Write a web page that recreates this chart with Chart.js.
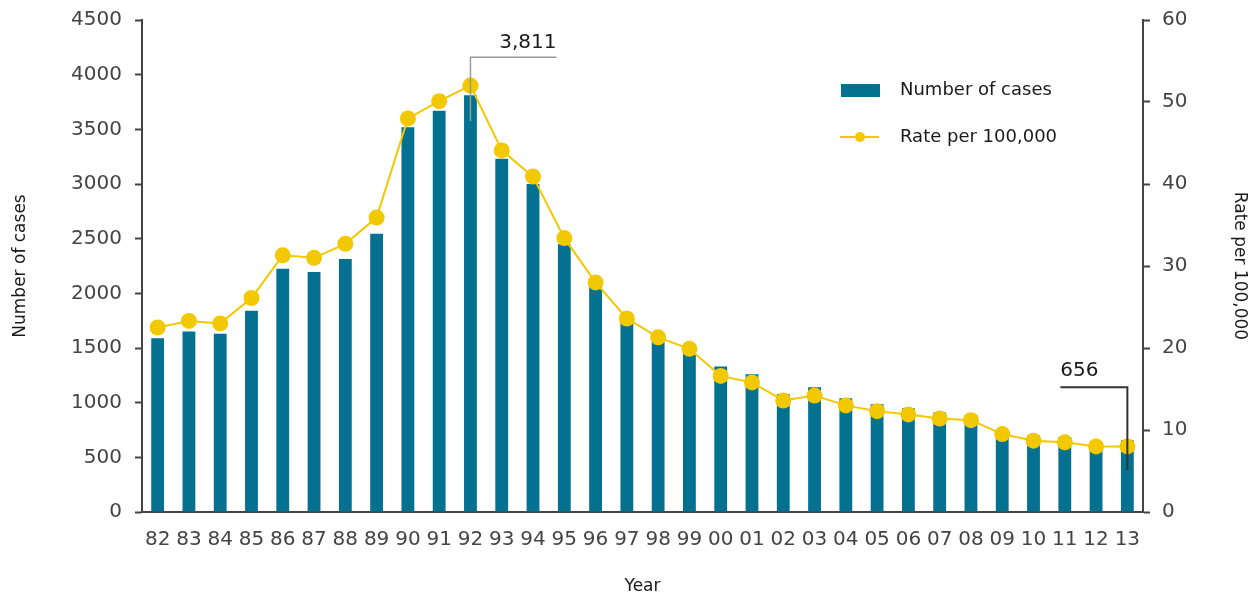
<!DOCTYPE html>
<html>
<head>
<meta charset="utf-8">
<script src="https://cdn.jsdelivr.net/npm/chart.js@4"></script>
<style>
  html, body { margin: 0; padding: 0; background: #fff; }
  #wrap { width: 1260px; height: 598px; }
</style>
</head>
<body>
<div id="wrap"><canvas id="myChart" width="1260" height="598"></canvas></div>
<script>
// donnees
const years = ['82','83','84','85','86','87','88','89','90','91','92','93','94','95','96','97',
  '98','99','00','01','02','03','04','05','06','07','08','09','10','11','12','13'];
const cases = [1590,1650,1630,1840,2225,2195,2315,2545,3520,3670,3811,3230,3000,2450,2060,1740,
  1560,1470,1330,1260,1080,1140,1040,985,950,910,885,720,700,685,640,656];
const rate = [22.5,23.3,23.0,26.1,31.3,31.0,32.7,35.9,48.0,50.1,52.0,44.1,40.9,33.4,28.0,23.6,
  21.3,19.9,16.6,15.8,13.6,14.2,13.0,12.3,11.9,11.4,11.2,9.5,8.7,8.5,8.0,8.0];
const leftTicks = [0,500,1000,1500,2000,2500,3000,3500,4000,4500];
const rightTicks = [0,10,20,30,40,50,60];
const annotLabels = ['3,811','656'];
const annotIndex = [10, 31];

const blue = '#03718f';
const yellow = '#f2c800';
const axisColor = '#444444';
const fontFam = '"DejaVu Sans", sans-serif';

// legende dessinee a la main (position fixe comme sur l'original)
const legendPlugin = {
  id: 'legendPlugin',
  afterDraw(chart) {
    const ctx = chart.ctx;
    ctx.save();
    ctx.fillStyle = blue;
    ctx.fillRect(841, 84, 39, 13);
    ctx.strokeStyle = yellow;
    ctx.lineWidth = 2;
    ctx.beginPath(); ctx.moveTo(840, 137); ctx.lineTo(879, 137); ctx.stroke();
    ctx.fillStyle = yellow;
    ctx.beginPath(); ctx.arc(860, 137, 5, 0, Math.PI * 2); ctx.fill();
    ctx.fillStyle = '#1a1a1a';
    ctx.font = '18px ' + fontFam;
    ctx.textBaseline = 'middle';
    ctx.textAlign = 'left';
    ctx.fillText(chart.data.datasets[1].label, 900, 90);
    ctx.fillText(chart.data.datasets[0].label, 900, 137);
    ctx.restore();
  }
};

// etiquettes 3,811 et 656 avec traits
const annotPlugin = {
  id: 'annotPlugin',
  afterDraw(chart) {
    const ctx = chart.ctx;
    const xs = chart.scales.x, ys = chart.scales.y;
    ctx.save();
    ctx.font = '20px ' + fontFam;
    ctx.textBaseline = 'middle';
    // pic 1992
    let x = xs.getPixelForValue(annotIndex[0]);
    let top = ys.getPixelForValue(cases[annotIndex[0]]);
    ctx.strokeStyle = '#9a9a9a';
    ctx.lineWidth = 1.5;
    ctx.beginPath();
    ctx.moveTo(x, top + 26); ctx.lineTo(x, top - 38); ctx.lineTo(x + 86, top - 38);
    ctx.stroke();
    ctx.fillStyle = '#1a1a1a';
    ctx.textAlign = 'right';
    ctx.fillText(annotLabels[0], x + 86, top - 53);
    // 2013
    x = xs.getPixelForValue(annotIndex[1]);
    top = ys.getPixelForValue(cases[annotIndex[1]]);
    ctx.strokeStyle = '#333333';
    ctx.lineWidth = 2;
    ctx.beginPath();
    ctx.moveTo(x, top + 30); ctx.lineTo(x, top - 53); ctx.lineTo(x - 67, top - 53);
    ctx.stroke();
    ctx.textAlign = 'left';
    ctx.fillText(annotLabels[1], x - 67, top - 69);
    ctx.restore();
  }
};

const ctx = document.getElementById('myChart');
new Chart(ctx, {
  type: 'bar',
  data: {
    labels: years,
    datasets: [
      {
        type: 'line',
        label: 'Rate per 100,000',
        data: rate,
        yAxisID: 'y1',
        borderColor: yellow,
        backgroundColor: yellow,
        borderWidth: 2,
        pointRadius: 8,
        pointBorderWidth: 0,
        pointBackgroundColor: yellow,
        tension: 0,
        order: 0
      },
      {
        type: 'bar',
        label: 'Number of cases',
        data: cases,
        yAxisID: 'y',
        backgroundColor: blue,
        categoryPercentage: 1,
        barPercentage: 0.41,
        order: 1
      }
    ]
  },
  options: {
    responsive: false,
    animation: false,
    devicePixelRatio: 1,
    layout: { padding: { top: 20, left: 0, right: 0, bottom: 0 } },
    plugins: {
      legend: { display: false },
      tooltip: { enabled: false }
    },
    scales: {
      x: {
        grid: { display: false, drawTicks: false },
        border: { display: true, color: axisColor, width: 2 },
        ticks: {
          color: axisColor, padding: 16, maxRotation: 0, autoSkip: false,
          font: { family: fontFam, size: 20 }
        },
        title: {
          display: true, text: 'Year', color: '#1a1a1a',
          font: { family: fontFam, size: 17 }, padding: { top: 0, bottom: 1 }
        },
        afterFit(scale) { scale.height = 86; scale.paddingLeft = 0; scale.paddingRight = 0; }
      },
      y: {
        position: 'left',
        min: 0, max: 4500,
        afterBuildTicks(scale) { scale.ticks = leftTicks.map(v => ({ value: v })); },
        grid: { drawOnChartArea: false, drawTicks: true, tickLength: 7, color: axisColor, tickWidth: 2 },
        border: { color: axisColor, width: 2 },
        ticks: {
          color: axisColor, padding: 13, font: { family: fontFam, size: 20 },
          callback: v => String(v)
        },
        title: {
          display: true, text: 'Number of cases', color: '#1a1a1a',
          font: { family: fontFam, size: 17 }, padding: { top: 10, bottom: 0 }
        },
        afterFit(scale) { scale.width = 142; scale.paddingTop = 0; scale.paddingBottom = 0; }
      },
      y1: {
        position: 'right',
        min: 0, max: 60,
        afterBuildTicks(scale) { scale.ticks = rightTicks.map(v => ({ value: v })); },
        grid: { drawOnChartArea: false, drawTicks: true, tickLength: 7, color: axisColor, tickWidth: 2 },
        border: { color: axisColor, width: 2 },
        ticks: {
          color: axisColor, padding: 12, font: { family: fontFam, size: 20 },
          callback: v => String(v)
        },
        title: {
          display: true, text: 'Rate per 100,000', color: '#1a1a1a',
          font: { family: fontFam, size: 17 }, padding: { top: 10, bottom: 0 }
        },
        afterFit(scale) { scale.width = 117; scale.paddingTop = 0; scale.paddingBottom = 0; }
      }
    }
  },
  plugins: [legendPlugin, annotPlugin]
});
</script>
</body>
</html>
